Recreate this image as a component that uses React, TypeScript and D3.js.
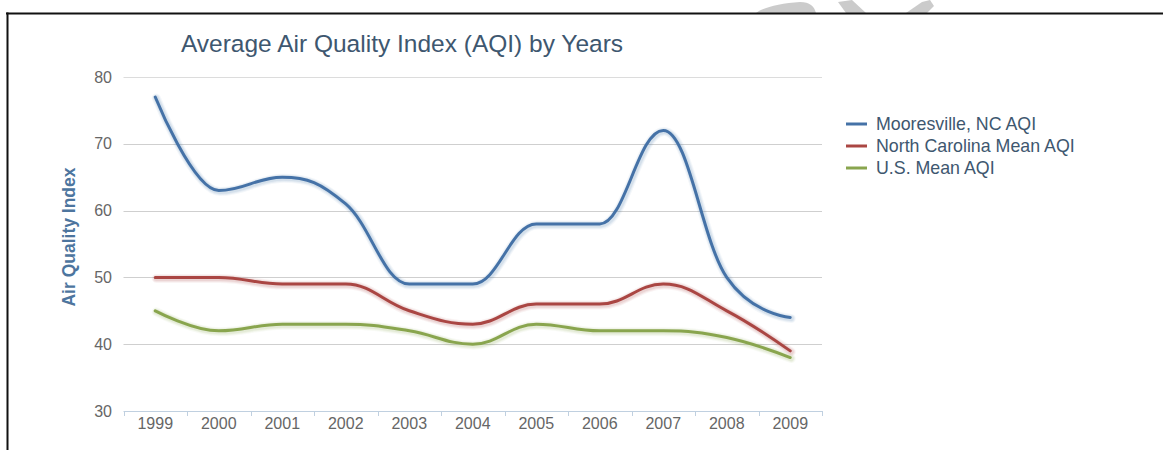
import React from "react";
import * as d3 from "d3";

const years = ["1999", "2000", "2001", "2002", "2003", "2004", "2005", "2006", "2007", "2008", "2009"];
const mooresville = [77, 63, 65, 61, 49, 49, 58, 58, 72, 50, 44];
const ncMean = [50, 50, 49, 49, 45, 43, 46, 46, 49, 45, 39];
const usMean = [45, 42, 43, 43, 42, 40, 43, 42, 42, 41, 38];
const yTicks = [30, 40, 50, 60, 70, 80];
const seriesNames = ["Mooresville, NC AQI", "North Carolina Mean AQI", "U.S. Mean AQI"];
const seriesColors = ["#4572A7", "#AA4643", "#89A54E"];
const title = "Average Air Quality Index (AQI) by Years";
const yTitle = "Air Quality Index";

const W = 1163;
const H = 450;
const plot = { left: 123.5, right: 822, top: 77, bottom: 411 };
const FONT = '"Liberation Sans", Arial, sans-serif';

// Highcharts-style spline through points
function splinePath(pts: [number, number][]): string {
  const p = d3.path();
  const smoothing = 1.5;
  const denom = smoothing + 1;
  const rc: ({ x: number; y: number } | null)[] = pts.map(() => null);
  const lc: ({ x: number; y: number } | null)[] = pts.map(() => null);
  for (let i = 1; i < pts.length - 1; i++) {
    const [x, y] = pts[i];
    const [lx, ly] = pts[i - 1];
    const [nx, ny] = pts[i + 1];
    const lcx = (smoothing * x + lx) / denom;
    let lcy = (smoothing * y + ly) / denom;
    const rcx = (smoothing * x + nx) / denom;
    let rcy = (smoothing * y + ny) / denom;
    let correction = 0;
    if (rcx !== lcx) correction = ((rcy - lcy) * (rcx - x)) / (rcx - lcx) + y - rcy;
    lcy += correction;
    rcy += correction;
    if (lcy > ly && lcy > y) { lcy = Math.max(ly, y); rcy = 2 * y - lcy; }
    else if (lcy < ly && lcy < y) { lcy = Math.min(ly, y); rcy = 2 * y - lcy; }
    if (rcy > ny && rcy > y) { rcy = Math.max(ny, y); lcy = 2 * y - rcy; }
    else if (rcy < ny && rcy < y) { rcy = Math.min(ny, y); lcy = 2 * y - rcy; }
    lc[i] = { x: lcx, y: lcy };
    rc[i] = { x: rcx, y: rcy };
  }
  p.moveTo(pts[0][0], pts[0][1]);
  for (let i = 1; i < pts.length; i++) {
    const prev = pts[i - 1];
    const c1 = rc[i - 1] || { x: prev[0], y: prev[1] };
    const c2 = lc[i] || { x: pts[i][0], y: pts[i][1] };
    p.bezierCurveTo(c1.x, c1.y, c2.x, c2.y, pts[i][0], pts[i][1]);
  }
  return p.toString();
}

export default function App() {
  const x = d3.scaleBand<string>().domain(years).range([plot.left, plot.right]).padding(0);
  const y = d3.scaleLinear().domain([30, 80]).range([plot.bottom, plot.top]);
  const bw = x.bandwidth();
  const allSeries = [mooresville, ncMean, usMean];
  const paths = allSeries.map((vals) =>
    splinePath(vals.map((v, i) => [(x(years[i]) as number) + bw / 2, y(v)] as [number, number]))
  );

  return (
    <svg width={W} height={H} style={{ position: "absolute", left: 0, top: 0, background: "#fff" }}>
      {/* decorative watermark shapes above the frame */}
      <g fill="#cbcbcb">
        <path d="M756,13 C762,8 780,3 800,2 C810,2 814,6 816,13 Z" />
        <path d="M838,2 L852,0 L866,13 L846,13 Z" />
        <path d="M906,13 L922,2 L930,0 L934,6 L927,13 Z" />
      </g>
      {/* frame */}
      <line x1={6} x2={W} y1={13.5} y2={13.5} stroke="#111" strokeWidth={2} />
      <line x1={7.5} x2={7.5} y1={12.5} y2={H} stroke="#111" strokeWidth={2} />

      {/* title */}
      <text x={402} y={52} textAnchor="middle" fontFamily={FONT} fontSize={24.5} fill="#3E576F">
        {title}
      </text>

      {/* grid */}
      {yTicks.filter((t) => t !== 30).map((t) => (
        <line key={t} x1={plot.left} x2={plot.right} y1={Math.round(y(t)) + 0.5} y2={Math.round(y(t)) + 0.5}
          stroke={t === 80 ? "#dcdcdc" : "#cfcfcf"} strokeWidth={1} />
      ))}
      {/* x axis */}
      <line x1={plot.left} x2={plot.right} y1={plot.bottom + 0.5} y2={plot.bottom + 0.5} stroke="#C0D0E0" strokeWidth={1} />
      {years.map((yr) => (
        <line key={"t" + yr} x1={Math.round((x(yr) as number) + bw) + 0.5} x2={Math.round((x(yr) as number) + bw) + 0.5}
          y1={plot.bottom} y2={plot.bottom + 5} stroke="#C0D0E0" strokeWidth={1} />
      ))}
      <line x1={Math.round(plot.left) + 0.5} x2={Math.round(plot.left) + 0.5} y1={plot.bottom} y2={plot.bottom + 5} stroke="#C0D0E0" strokeWidth={1} />

      {/* y labels */}
      {yTicks.map((t) => (
        <text key={"y" + t} x={112} y={y(t) + 5.5} textAnchor="end" fontFamily={FONT} fontSize={16} fill="#666">
          {t}
        </text>
      ))}
      {/* x labels */}
      {years.map((yr) => (
        <text key={"x" + yr} x={(x(yr) as number) + bw / 2} y={429} textAnchor="middle" fontFamily={FONT} fontSize={16} fill="#666">
          {yr}
        </text>
      ))}

      {/* y title */}
      <text transform={`translate(75,237) rotate(-90)`} textAnchor="middle" fontFamily={FONT} fontSize={17.5}
        fontWeight="bold" fill="#4d759e">
        {yTitle}
      </text>

      {/* series */}
      {paths.map((d, i) => (
        <g key={"s" + i}>
          <g transform="translate(1,1)" fill="none" strokeLinecap="round" strokeLinejoin="round">
            <path d={d} stroke={seriesColors[i]} strokeOpacity={0.06} strokeWidth={9} />
            <path d={d} stroke={seriesColors[i]} strokeOpacity={0.08} strokeWidth={7} />
            <path d={d} stroke={seriesColors[i]} strokeOpacity={0.1} strokeWidth={5} />
          </g>
          <path d={d} fill="none" stroke={seriesColors[i]} strokeWidth={3} strokeLinecap="round" strokeLinejoin="round" />
        </g>
      ))}

      {/* legend */}
      {seriesNames.map((name, i) => (
        <g key={"l" + i} transform={`translate(846,${124 + i * 22})`}>
          <line x1={0} x2={21} y1={0} y2={0} stroke={seriesColors[i]} strokeWidth={3} />
          <text x={30} y={6} fontFamily={FONT} fontSize={17.8} fill="#3E576F">
            {name}
          </text>
        </g>
      ))}
    </svg>
  );
}
